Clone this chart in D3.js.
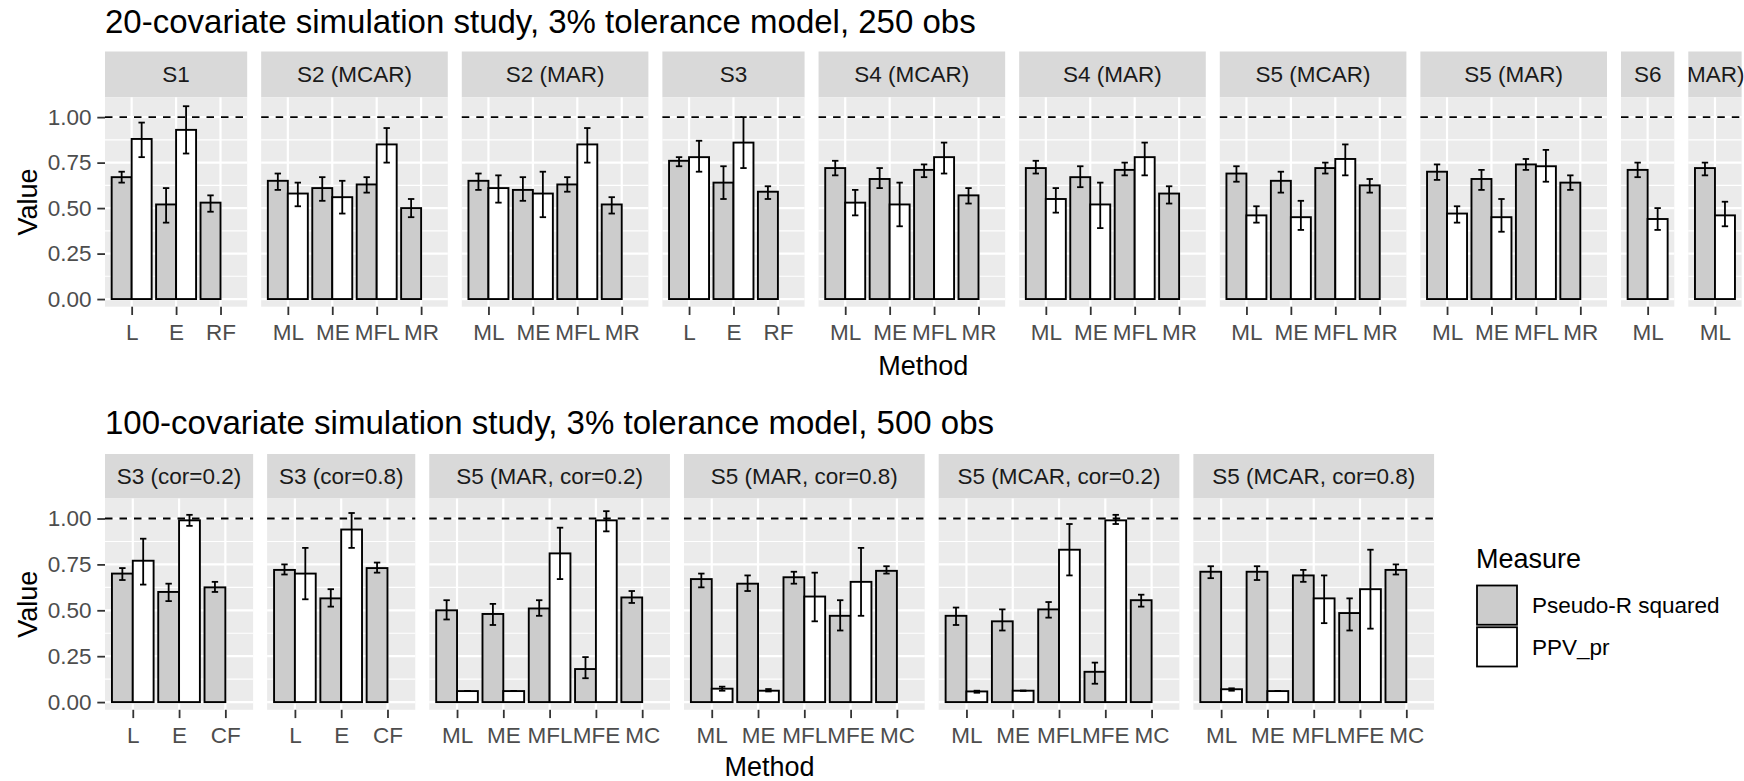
<!DOCTYPE html>
<html><head><meta charset="utf-8">
<script src="https://cdn.jsdelivr.net/npm/d3@7"></script>
<style>
body{margin:0;background:#fff}
svg{display:block}
text{font-family:"Liberation Sans",Arial,Helvetica,sans-serif}
</style>
</head><body><svg id="c" width="1744" height="781"></svg>
<script>
// ---------------- DATA ----------------
const measures = ["Pseudo-R squared", "PPV_pr"];
const yTicks = [0, 0.25, 0.5, 0.75, 1.0];
const yMinorTicks = [0.125, 0.375, 0.625, 0.875];

// Top chart: 20-covariate, 250 obs
const topTitle = "20-covariate simulation study, 3% tolerance model, 250 obs";
const topPanels = ["S1", "S2 (MCAR)", "S2 (MAR)", "S3", "S4 (MCAR)", "S4 (MAR)", "S5 (MCAR)", "S5 (MAR)", "S6", "S6 (MAR)"];
const topMethods = [
  ["L", "E", "RF"], ["ML", "ME", "MFL", "MR"], ["ML", "ME", "MFL", "MR"], ["L", "E", "RF"],
  ["ML", "ME", "MFL", "MR"], ["ML", "ME", "MFL", "MR"], ["ML", "ME", "MFL", "MR"], ["ML", "ME", "MFL", "MR"],
  ["ML"], ["ML"]
];
const topR2 = [
  [0.67, 0.52, 0.53], [0.65, 0.61, 0.63, 0.50], [0.65, 0.60, 0.63, 0.52], [0.76, 0.64, 0.59],
  [0.72, 0.66, 0.71, 0.57], [0.72, 0.67, 0.71, 0.58], [0.69, 0.65, 0.72, 0.625], [0.70, 0.66, 0.74, 0.64],
  [0.71], [0.72]
];
const topR2Lo = [
  [0.64, 0.42, 0.48], [0.60, 0.54, 0.585, 0.45], [0.60, 0.54, 0.59, 0.47], [0.73, 0.55, 0.55],
  [0.68, 0.61, 0.67, 0.525], [0.69, 0.615, 0.68, 0.525], [0.645, 0.585, 0.69, 0.585], [0.655, 0.60, 0.71, 0.60],
  [0.67], [0.68]
];
const topR2Hi = [
  [0.70, 0.61, 0.57], [0.69, 0.67, 0.67, 0.55], [0.69, 0.67, 0.67, 0.56], [0.78, 0.73, 0.62],
  [0.76, 0.72, 0.74, 0.61], [0.76, 0.73, 0.75, 0.62], [0.73, 0.70, 0.75, 0.66], [0.74, 0.71, 0.77, 0.68],
  [0.75], [0.75]
];
const topPPV = [
  [0.88, 0.93, null], [0.58, 0.56, 0.85, null], [0.61, 0.58, 0.85, null], [0.78, 0.86, null],
  [0.53, 0.52, 0.78, null], [0.55, 0.52, 0.78, null], [0.46, 0.45, 0.77, null], [0.47, 0.45, 0.73, null],
  [0.44], [0.46]
];
const topPPVLo = [
  [0.78, 0.80, null], [0.51, 0.47, 0.75, null], [0.53, 0.45, 0.75, null], [0.70, 0.72, null],
  [0.46, 0.40, 0.69, null], [0.475, 0.39, 0.68, null], [0.42, 0.38, 0.68, null], [0.42, 0.37, 0.645, null],
  [0.38], [0.40]
];
const topPPVHi = [
  [0.97, 1.06, null], [0.64, 0.65, 0.94, null], [0.68, 0.70, 0.94, null], [0.87, 1.00, null],
  [0.60, 0.64, 0.86, null], [0.61, 0.64, 0.86, null], [0.51, 0.54, 0.85, null], [0.51, 0.55, 0.82, null],
  [0.50], [0.535]
];

// Bottom chart: 100-covariate, 500 obs
const botTitle = "100-covariate simulation study, 3% tolerance model, 500 obs";
const botPanels = ["S3 (cor=0.2)", "S3 (cor=0.8)", "S5 (MAR, cor=0.2)", "S5 (MAR, cor=0.8)", "S5 (MCAR, cor=0.2)", "S5 (MCAR, cor=0.8)"];
const botMethods = [
  ["L", "E", "CF"], ["L", "E", "CF"],
  ["ML", "ME", "MFL", "MFE", "MC"], ["ML", "ME", "MFL", "MFE", "MC"],
  ["ML", "ME", "MFL", "MFE", "MC"], ["ML", "ME", "MFL", "MFE", "MC"]
];
const botR2 = [
  [0.70, 0.60, 0.625], [0.72, 0.565, 0.73],
  [0.50, 0.48, 0.51, 0.18, 0.57], [0.67, 0.645, 0.68, 0.47, 0.715],
  [0.47, 0.44, 0.505, 0.165, 0.555], [0.71, 0.71, 0.69, 0.485, 0.72]
];
const botR2Lo = [
  [0.665, 0.55, 0.60], [0.695, 0.52, 0.705],
  [0.45, 0.42, 0.47, 0.13, 0.54], [0.625, 0.605, 0.645, 0.39, 0.70],
  [0.42, 0.39, 0.46, 0.10, 0.52], [0.675, 0.665, 0.655, 0.39, 0.695]
];
const botR2Hi = [
  [0.73, 0.645, 0.655], [0.75, 0.615, 0.76],
  [0.555, 0.535, 0.555, 0.245, 0.605], [0.70, 0.69, 0.71, 0.555, 0.74],
  [0.515, 0.505, 0.545, 0.215, 0.585], [0.74, 0.74, 0.72, 0.565, 0.75]
];
const botPPV = [
  [0.77, 0.99, null], [0.70, 0.94, null],
  [0.06, 0.06, 0.81, 0.99, null], [0.073, 0.062, 0.575, 0.655, null],
  [0.058, 0.062, 0.83, 0.99, null], [0.07, 0.06, 0.565, 0.615, null]
];
const botPPVLo = [
  [0.64, 0.96, null], [0.56, 0.84, null],
  [0.06, 0.06, 0.67, 0.93, null], [0.062, 0.058, 0.44, 0.47, null],
  [0.051, 0.062, 0.69, 0.97, null], [0.062, 0.06, 0.43, 0.40, null]
];
const botPPVHi = [
  [0.89, 1.02, null], [0.84, 1.03, null],
  [0.06, 0.06, 0.95, 1.04, null], [0.084, 0.071, 0.705, 0.84, null],
  [0.062, 0.062, 0.97, 1.02, null], [0.075, 0.06, 0.69, 0.83, null]
];

// ---------------- STYLE ----------------
const FONT_TICK = 22.5, FONT_STRIP = 22.5, FONT_TITLE = 33, FONT_AXIS = 27, FONT_LEG_T = 27, FONT_LEG = 22.5;
const COL_PANEL = "#EBEBEB", COL_STRIP = "#D9D9D9", COL_TICKTXT = "#4D4D4D", COL_STRIPTXT = "#1A1A1A";
const fillFor = d3.scaleOrdinal().domain(measures).range(["#CCCCCC", "#FFFFFF"]);

const svg = d3.select("#c");
svg.append("rect").attr("width", 1744).attr("height", 781).attr("fill", "#fff");

function drawChart(cfg) {
  const y = d3.scaleLinear().domain([-0.042, 1.109]).range([cfg.panelBottom, cfg.panelTop]);
  const sub = d3.scaleBand().domain(measures).range([-0.45 * cfg.unit, 0.45 * cfg.unit]).paddingInner(0);
  let x0 = cfg.left;
  const first = x0;
  let last = x0;
  cfg.panels.forEach((name, i) => {
    const meths = cfg.methods[i];
    const w = (meths.length + 0.2) * cfg.unit;
    const xs = d3.scalePoint().domain(meths).range([x0, x0 + w]).padding(0.6);
    const g = svg.append("g");

    // strip
    g.append("rect").attr("x", x0).attr("y", cfg.stripTop).attr("width", w)
      .attr("height", cfg.panelTop - cfg.stripTop).attr("fill", COL_STRIP);
    const cid = cfg.id + "clip" + i;
    svg.append("clipPath").attr("id", cid).append("rect")
      .attr("x", x0).attr("y", cfg.stripTop).attr("width", w + 3).attr("height", cfg.panelTop - cfg.stripTop);
    const st = g.append("text").attr("clip-path", `url(#${cid})`)
      .attr("x", x0 + w / 2).attr("y", (cfg.stripTop + cfg.panelTop) / 2)
      .attr("dy", "0.35em").attr("text-anchor", "middle")
      .attr("font-size", FONT_STRIP).attr("fill", COL_STRIPTXT).text(name);
    if (st.node().getComputedTextLength() > w) {
      // label wider than its strip: only its right-hand end shows, cut at the strip edge
      let words = name.split(" ");
      while (words.length > 1 && st.node().getComputedTextLength() > w) {
        words = words.slice(1);
        st.text(words.join(" "));
      }
      st.attr("x", x0 + w + 3).attr("text-anchor", "end");
    }

    // panel background
    g.append("rect").attr("x", x0).attr("y", cfg.panelTop).attr("width", w)
      .attr("height", cfg.panelBottom - cfg.panelTop).attr("fill", COL_PANEL);
    // minor grid
    g.selectAll(".mn").data(yMinorTicks).join("line")
      .attr("x1", x0).attr("x2", x0 + w).attr("y1", d => y(d)).attr("y2", d => y(d))
      .attr("stroke", "#fff").attr("stroke-width", 1.1);
    // major grid
    g.selectAll(".mj").data(yTicks).join("line")
      .attr("x1", x0).attr("x2", x0 + w).attr("y1", d => y(d)).attr("y2", d => y(d))
      .attr("stroke", "#fff").attr("stroke-width", 2.2);
    g.selectAll(".vx").data(meths).join("line")
      .attr("x1", d => xs(d)).attr("x2", d => xs(d)).attr("y1", cfg.panelTop).attr("y2", cfg.panelBottom)
      .attr("stroke", "#fff").attr("stroke-width", 2.2);

    // bars
    const rows = [];
    meths.forEach((m, j) => {
      rows.push({ m, meas: measures[0], v: cfg.r2[i][j], lo: cfg.r2Lo[i][j], hi: cfg.r2Hi[i][j] });
      if (cfg.ppv[i][j] != null)
        rows.push({ m, meas: measures[1], v: cfg.ppv[i][j], lo: cfg.ppvLo[i][j], hi: cfg.ppvHi[i][j] });
    });
    g.selectAll(".bar").data(rows).join("rect")
      .attr("x", d => xs(d.m) + sub(d.meas)).attr("width", sub.bandwidth())
      .attr("y", d => y(d.v)).attr("height", d => y(0) - y(d.v))
      .attr("fill", d => fillFor(d.meas)).attr("stroke", "#000").attr("stroke-width", 1.9);
    // error bars
    const cap = 3.2;
    const eb = g.selectAll(".eb").data(rows).join("g")
      .attr("transform", d => `translate(${xs(d.m) + sub(d.meas) + sub.bandwidth() / 2},0)`);
    eb.append("line").attr("x1", 0).attr("x2", 0).attr("y1", d => y(d.lo)).attr("y2", d => y(d.hi))
      .attr("stroke", "#000").attr("stroke-width", 1.8);
    eb.append("line").attr("x1", -cap).attr("x2", cap).attr("y1", d => y(d.lo)).attr("y2", d => y(d.lo))
      .attr("stroke", "#000").attr("stroke-width", 1.8);
    eb.append("line").attr("x1", -cap).attr("x2", cap).attr("y1", d => y(d.hi)).attr("y2", d => y(d.hi))
      .attr("stroke", "#000").attr("stroke-width", 1.8);

    // reference line at 1
    g.append("line").attr("x1", x0).attr("x2", x0 + w).attr("y1", y(1)).attr("y2", y(1))
      .attr("stroke", "#000").attr("stroke-width", 1.8).attr("stroke-dasharray", "7.5,7");

    // x axis
    const ax = g.append("g").attr("transform", `translate(0,${cfg.panelBottom})`)
      .call(d3.axisBottom(xs).tickSize(8.3).tickPadding(9));
    ax.select(".domain").remove();
    ax.selectAll("line").attr("stroke", "#333").attr("stroke-width", 1.8);
    ax.selectAll("text").attr("font-size", FONT_TICK).attr("fill", COL_TICKTXT).attr("font-family", null);

    last = x0 + w;
    x0 += w + cfg.gap;
  });

  // y axis
  const ay = svg.append("g").attr("transform", `translate(${first},0)`)
    .call(d3.axisLeft(y).tickValues(yTicks).tickFormat(d3.format(".2f")).tickSize(7.7).tickPadding(5.8));
  ay.select(".domain").remove();
  ay.selectAll("line").attr("stroke", "#333").attr("stroke-width", 1.8);
  ay.selectAll("text").attr("font-size", FONT_TICK).attr("fill", COL_TICKTXT).attr("font-family", null);

  // titles
  svg.append("text").attr("x", first).attr("y", cfg.titleY).attr("font-size", FONT_TITLE).attr("fill", "#000").text(cfg.title);
  svg.append("text").attr("x", (first + last) / 2).attr("y", cfg.xTitleY).attr("text-anchor", "middle")
    .attr("font-size", FONT_AXIS).attr("fill", "#000").text("Method");
  svg.append("text").attr("transform", `translate(28,${(cfg.panelTop + cfg.panelBottom) / 2}) rotate(-90)`)
    .attr("text-anchor", "middle").attr("dy", "0.35em").attr("font-size", FONT_AXIS).attr("fill", "#000").text("Value");
}

drawChart({
  id: "top", title: topTitle, panels: topPanels, methods: topMethods,
  r2: topR2, r2Lo: topR2Lo, r2Hi: topR2Hi, ppv: topPPV, ppvLo: topPPVLo, ppvHi: topPPVHi,
  left: 105, unit: 44.43, gap: 14, stripTop: 51.5, panelTop: 97.3, panelBottom: 306.7,
  titleY: 32.5, xTitleY: 375
});
drawChart({
  id: "bot", title: botTitle, panels: botPanels, methods: botMethods,
  r2: botR2, r2Lo: botR2Lo, r2Hi: botR2Hi, ppv: botPPV, ppvLo: botPPVLo, ppvHi: botPPVHi,
  left: 105, unit: 46.29, gap: 14, stripTop: 454, panelTop: 498.5, panelBottom: 709.8,
  titleY: 434, xTitleY: 776
});

// legend
const leg = svg.append("g");
leg.append("text").attr("x", 1476).attr("y", 567.5).attr("font-size", FONT_LEG_T).attr("fill", "#000").text("Measure");
const keyY = d3.scaleBand().domain(measures).range([584.5, 668]);
leg.selectAll(".k").data(measures).join("rect")
  .attr("x", 1477).attr("y", d => keyY(d) + 1).attr("width", 40).attr("height", keyY.bandwidth() - 2.5)
  .attr("fill", d => fillFor(d)).attr("stroke", "#000").attr("stroke-width", 1.8);
leg.selectAll(".kt").data(measures).join("text")
  .attr("x", 1532).attr("y", d => keyY(d) + keyY.bandwidth() / 2).attr("dy", "0.35em")
  .attr("font-size", FONT_LEG).attr("fill", "#000").text(d => d);
</script>
</body></html>
